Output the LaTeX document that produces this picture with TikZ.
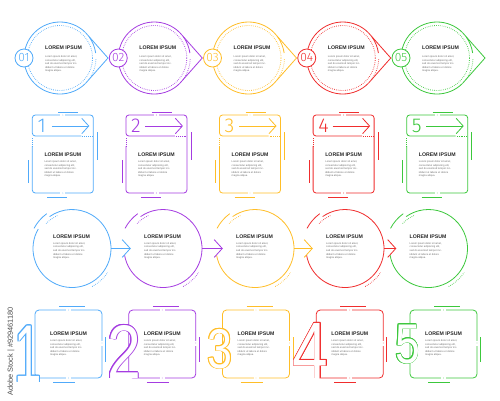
\documentclass[tikz,border=0pt]{standalone}
\usepackage{fontspec}
\setmainfont{Liberation Sans}
\IfFontExistsTF{Fira Sans Light}{\newfontfamily\thinfont{Fira Sans Light}}{\newfontfamily\thinfont{Liberation Sans}}
\usetikzlibrary{calc,arrows.meta}
\definecolor{cA}{RGB}{80,170,250}
\definecolor{cB}{RGB}{165,60,225}
\definecolor{cC}{RGB}{255,190,40}
\definecolor{cD}{RGB}{240,45,45}
\definecolor{cE}{RGB}{60,200,60}
\definecolor{txt}{RGB}{40,40,40}
\definecolor{bodytxt}{RGB}{110,110,110}
\newcommand{\bodytext}{Lorem ipsum dolor sit amet,\\consectetur adipiscing elit,\\sed do eiusmod tempor inc-\\ididunt ut labore et dolore\\magna aliqua.}
\tikzset{
  ln/.style={line width=0.8pt},
  dots/.style={line width=0.8pt, dash pattern=on 0.6pt off 1.3pt},
  ttl/.style={anchor=west, inner sep=0pt, text=txt, font=\bfseries\fontsize{5.2}{6}\selectfont},
  bodyt/.style={anchor=north west, inner sep=0pt, text=bodytxt, align=left, font=\fontsize{2.6}{3.6}\selectfont},
  barb/.style={-{Straight Barb[length=#1pt,width=2.2*#1pt]}},
  gapmark/.style={white,line width=1.8pt},
}
\begin{document}
\begin{tikzpicture}[x=1pt,y=1pt]
\fill[white] (0,0) rectangle (500,-400);
\useasboundingbox (0,0) rectangle (500,-400);

% ---------- Row 1 ----------
\foreach \i/\col/\dg in {0/cA/01,1/cB/02,2/cC/03,3/cD/04,4/cE/05}{
  \pgfmathsetmacro\cx{60+94.25*\i}
  \coordinate (oc\i) at (\cx,-58);
  \draw[\col,ln] ($(oc\i)+(45:36)$) arc[start angle=45,end angle=315,radius=36];
  \draw[\col,ln,line join=miter] ($(oc\i)+(45:36)$) -- ($(oc\i)+(48,0)$) -- ($(oc\i)+(-45:36)$);
  \draw[\col,ln] ($(oc\i)+(8:36)$) arc[start angle=8,end angle=36,radius=36];
  \draw[\col,dots] ($(oc\i)+(-36:36)$) arc[start angle=-36,end angle=0,radius=36];
  \draw[\col,dots] ($(oc\i)+(0:32.5)$) arc[start angle=0,end angle=360,radius=32.5];
  \node[circle,draw=\col,ln,fill=white,minimum size=18pt,inner sep=0pt,
        text=\col,font=\thinfont\fontsize{12}{12}\selectfont] (on\i) at ($(oc\i)+(-36,0)$) {\dg};
  \node[ttl] (ot\i) at ($(oc\i)+(-15,10)$) {LOREM IPSUM};
  \node[bodyt] (ob\i) at ($(oc\i)+(-15,2.5)$) {\bodytext};
}

% ---------- Row 2 ----------
\foreach \i/\col/\dg in {0/cA/1,1/cB/2,2/cC/3,3/cD/4,4/cE/5}{
  \pgfmathsetmacro\L{32.3+93.6*\i}
  \pgfmathsetmacro\R{\L+61}
  \draw[\col,ln,rounded corners=3pt] (\L,-146) -- (\L,-193) -- (\R,-193) -- (\R,-115) -- (\L,-115) -- (\L,-136) -- (\R-12,-136);
  \draw[\col,dots] (\R-11,-136) -- (\R,-136);
  \draw[\col,dots] (\L,-138) -- (\L,-146);
  \draw[gapmark] (\L+28,-115) -- (\L+33,-115);
  \fill[\col] (\L+30.5,-115) circle (0.45);
  \draw[gapmark] (\L+28,-193) -- (\L+33,-193);
  \fill[\col] (\L+30.5,-193) circle (0.45);
  \node[anchor=base west,inner sep=0pt,text=\col,font=\thinfont\fontsize{20}{20}\selectfont] (sn\i) at (\L+5,-132.5) {\dg};
  \coordinate (sa\i) at (\L+19.5,-126);
  \coordinate (sb\i) at (\L+57,-126);
  \draw[\col,ln,barb=7,line join=miter] (sa\i) -- (sb\i);
  \draw[\col,ln] (\L+26,-112) -- (\L+46,-112);
  \draw[\col,ln] (\R+4,-132) -- (\R+4,-160);
  \draw[\col,ln] (\L-4,-160) -- (\L-4,-183);
  \draw[\col,ln] (\L+15,-197) -- (\L+35,-197);
  \node[ttl] (st\i) at (\L+12,-155) {LOREM IPSUM};
  \node[bodyt] (sbt\i) at (\L+12,-160.5) {\bodytext};
}

% ---------- Row 3 ----------
\foreach \i/\col/\cx in {1/cA/72,2/cB/163,3/cC/255,4/cD/345,5/cE/428.5}{
  \node[circle,minimum size=78pt,inner sep=0pt,draw=none] (cc\i) at (\cx,-248.5) {};
  \ifnum\i=1
    \draw[\col,ln] ($(cc\i.center)+(150:39)$) arc[start angle=150,end angle=485,radius=39];
  \else
    \draw[\col,ln] ($(cc\i.center)+(190:39)$) arc[start angle=190,end angle=485,radius=39];
  \fi
  \draw[\col,ln] ($(cc\i.center)+(126:43)$) arc[start angle=126,end angle=152,radius=43];
  \draw[\col,dots] ($(cc\i.center)+(114:36)$) arc[start angle=114,end angle=136,radius=36];
  \draw[\col,dots] ($(cc\i.center)+(-62:43)$) arc[start angle=-62,end angle=-34,radius=43];
  \node[ttl] (ct\i) at ($(cc\i.center)+(-19,11.8)$) {LOREM IPSUM};
  \node[bodyt] (cb\i) at ($(cc\i.center)+(-19,6.3)$) {\bodytext};
}
\foreach \i/\j/\col in {1/2/cA,2/3/cB,3/4/cC,4/5/cD}{
  \draw[\col,ln,barb=8,line join=miter] (cc\i.east) -- ($(cc\j.west)+(7,0)$);
}

% ---------- Row 4 ----------
\foreach \i/\col/\dg/\fs/\dx/\by/\xs in {0/cA/1/82/-6.8/-382/0.6,1/cB/2/76/-4.5/-378/0.8,2/cC/3/56/-2.5/-368/0.8,3/cD/4/80/-5.5/-378/0.8,4/cE/5/56/-2.5/-363/0.8}{
  \pgfmathsetmacro\L{35+93.75*\i}
  \pgfmathsetmacro\R{\L+67}
  \draw[\col,ln,rounded corners=4pt] (\L,-310) rectangle (\R,-378);
  \draw[gapmark] (\L+31,-310) -- (\L+36,-310);
  \fill[\col] (\L+33.5,-310) circle (0.45);
  \draw[gapmark] (\L+31,-378) -- (\L+36,-378);
  \fill[\col] (\L+33.5,-378) circle (0.45);
  \draw[gapmark] (\R,-340.5) -- (\R,-345.5);
  \fill[\col] (\R,-343) circle (0.45);
  \draw[\col,ln] (\L+24,-306.5) -- (\L+50,-306.5);
  \draw[\col,ln] (\L+18,-382.5) -- (\L+40,-382.5);
  \draw[\col,ln] (\R+3.5,-337) -- (\R+3.5,-362);
  \coordinate (dp\i) at (\L+\dx,\by);
  \foreach \a in {0,30,...,330}{
    \node[anchor=base,inner sep=0pt,xscale=\xs,text=\col,font=\fontsize{\fs}{\fs}\selectfont] at ($(dp\i)+(\a:0.75)$) {\dg};
  }
  \node[anchor=base,inner sep=0pt,xscale=\xs,text=white,font=\fontsize{\fs}{\fs}\selectfont] (dg\i) at (dp\i) {\dg};
  \node[ttl] (qt\i) at (\L+15,-334) {LOREM IPSUM};
  \node[bodyt] (qb\i) at (\L+15,-339.5) {\bodytext};
}

% watermark text
\node[rotate=90,anchor=west,inner sep=0pt,text=black!70,font=\fontsize{7.4}{9}\selectfont] (wm) at (11,-396) {Adobe Stock | \#929461180};
\end{tikzpicture}
\end{document}
